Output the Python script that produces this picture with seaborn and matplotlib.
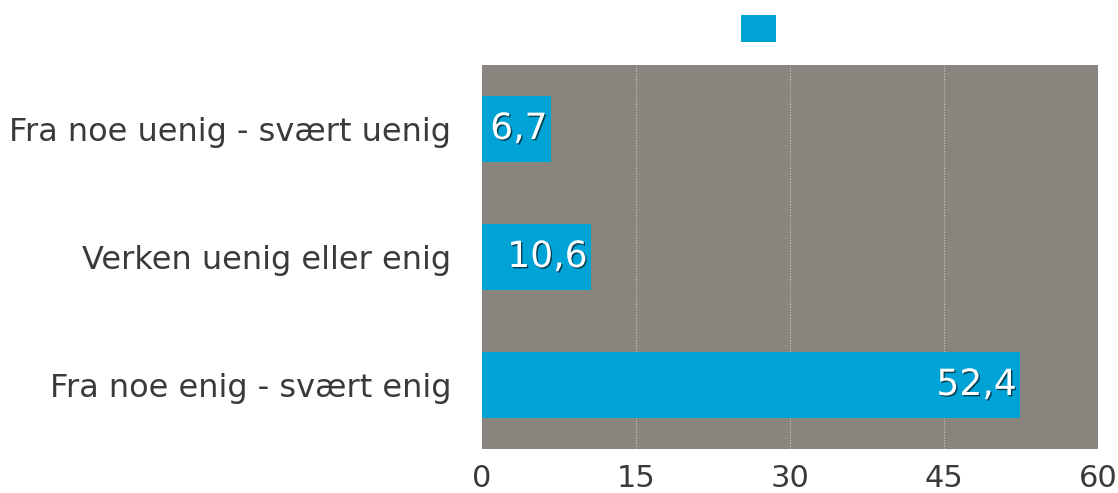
import matplotlib
matplotlib.use("Agg")
import matplotlib.pyplot as plt
import matplotlib.patheffects as pe
import seaborn as sns
import pandas as pd

categories = ["Fra noe uenig - svært uenig", "Verken uenig eller enig", "Fra noe enig - svært enig"]
values = [6.7, 10.6, 52.4]
value_labels = ["6,7", "10,6", "52,4"]
x_ticks = [0, 15, 30, 45, 60]

sns.set_style("white")
plt.rcParams["font.family"] = ["DejaVu Sans"]

df = pd.DataFrame({"kategori": categories, "andel": values, "serie": [""] * 3})

fig = plt.figure(figsize=(11.18, 4.93), dpi=100)
ax = fig.add_axes([0.4311, 0.0892, 0.5510, 0.7790])
ax.set_facecolor("#8a847f")

sns.barplot(data=df, x="andel", y="kategori", hue="serie", palette=["#00a3d6"],
            width=0.52, orient="h", ax=ax, legend=False, saturation=1, linewidth=0)

ax.set_xlim(0, 60)
ax.set_xticks(x_ticks)
ax.set_xticklabels([str(t) for t in x_ticks])
ax.set_xlabel("")
ax.set_ylabel("")
for t in x_ticks[1:]:
    ax.axvline(t, color="#c9c5c1", lw=0.8, ls=(0, (1, 1.5)), zorder=0.5)
for s in ax.spines.values():
    s.set_visible(False)
ax.tick_params(axis="both", length=0, labelcolor="#3a3a3a")
ax.tick_params(axis="x", pad=11, labelsize=22)
ax.tick_params(axis="y", pad=22, labelsize=23)

shadow = [pe.SimplePatchShadow(offset=(1, -1), shadow_rgbFace="black", alpha=0.6), pe.Normal()]
for i, (v, lab) in enumerate(zip(values, value_labels)):
    ax.text(v - 0.3, i, lab, ha="right", va="center", color="white", fontsize=26,
            path_effects=shadow)

bar = ax.containers[0].patches[0]
fig.legend([bar], [""], loc="center", bbox_to_anchor=(0.678, 0.94), frameon=False,
           fontsize=20, handlelength=1.26, handleheight=1.1, handletextpad=0)

fig.savefig("out.png", dpi=100)
